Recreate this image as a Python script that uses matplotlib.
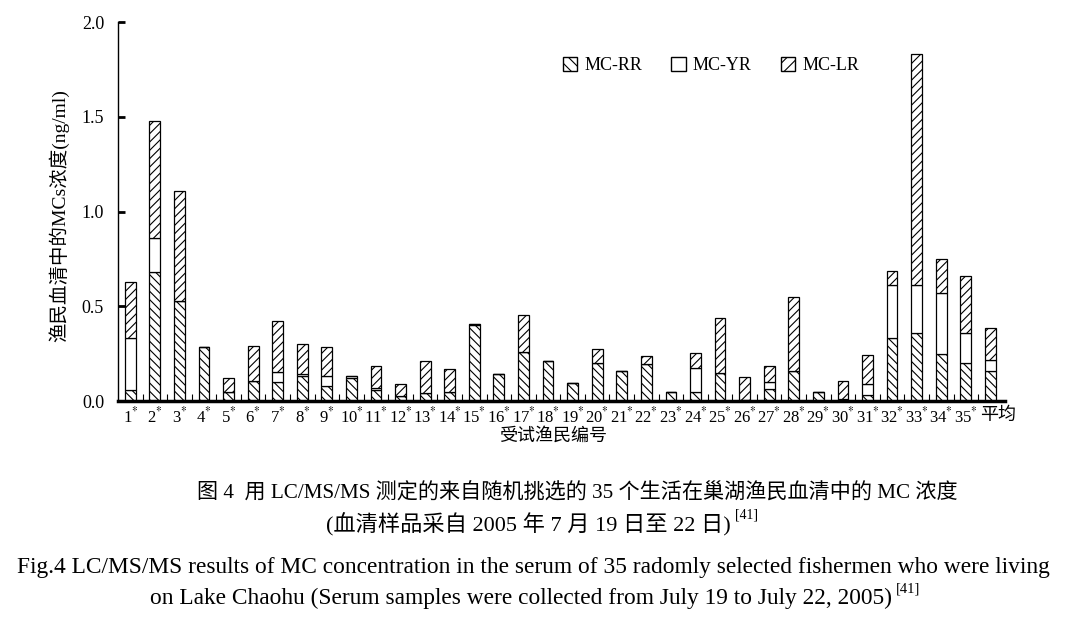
import numpy as np
import matplotlib
matplotlib.use("Agg")
import matplotlib.pyplot as plt
import matplotlib.transforms as mtransforms
from matplotlib.patches import Patch

plt.rcParams['font.family'] = ['Liberation Serif', 'Noto Sans CJK SC']
plt.rcParams['mathtext.fontset'] = 'stix'
plt.rcParams['hatch.linewidth'] = 0.8

# fishermen 1..35 plus the mean ("平均")
labels = [f"{i}$^{{*}}$" for i in range(1, 36)] + ["平均"]

mc_rr = [0.06, 0.68, 0.53, 0.285, 0.045, 0.105, 0.10, 0.13, 0.08, 0.12,
         0.06, 0.025, 0.04, 0.045, 0.40, 0.14, 0.26, 0.21, 0.095, 0.20,
         0.16, 0.195, 0.048, 0.05, 0.15, 0.0, 0.065, 0.16, 0.045, 0.01,
         0.03, 0.33, 0.36, 0.25, 0.20, 0.16]
mc_yr = [0.27, 0.18, 0.0, 0.0, 0.0, 0.0, 0.054, 0.01, 0.05, 0.01,
         0.01, 0.0, 0.0, 0.0, 0.005, 0.0, 0.0, 0.0, 0.0, 0.0,
         0.0, 0.0, 0.0, 0.125, 0.0, 0.005, 0.035, 0.0, 0.0, 0.0,
         0.06, 0.28, 0.25, 0.32, 0.16, 0.055]
mc_lr = [0.30, 0.62, 0.58, 0.0, 0.075, 0.185, 0.266, 0.16, 0.155, 0.0,
         0.115, 0.065, 0.17, 0.125, 0.0, 0.0, 0.195, 0.0, 0.0, 0.075,
         0.0, 0.04, 0.0, 0.077, 0.29, 0.12, 0.085, 0.39, 0.0, 0.095,
         0.155, 0.076, 1.22, 0.18, 0.30, 0.17]

x = np.arange(len(labels))
rr = np.array(mc_rr)
yr = np.array(mc_yr)
lr = np.array(mc_lr)

fig = plt.figure(figsize=(10.67, 6.2), dpi=100)
ax = fig.add_axes([0.1106, 0.3532, 0.8314, 0.6113])

w = 0.44
kw = dict(width=w, color="white", edgecolor="black", linewidth=0.9)
ax.bar(x, rr, hatch="\\\\\\\\", **kw)
ax.bar(x, yr, bottom=rr, **kw)
ax.bar(x, lr, bottom=rr + yr, hatch="////", **kw)

ax.set_xlim(-0.5, 35.6)
ax.set_ylim(0, 2.0)
ax.set_yticks([0.0, 0.5, 1.0, 1.5, 2.0])
ax.set_yticklabels(["0.0", "0.5", "1.0", "1.5", "2.0"])
ax.set_xticks(x)
ax.set_xticklabels(labels)
ax.set_xticks(np.arange(0.5, 35.5, 1), minor=True)
ax.tick_params(axis="x", which="major", length=0, pad=4, labelsize=12)
ax.tick_params(axis="x", which="minor", direction="in", length=5, width=0.8)
ax.tick_params(axis="y", direction="in", length=5, width=2, labelsize=13, pad=10)
for s in ["top", "right"]:
    ax.spines[s].set_visible(False)
ax.spines["bottom"].set_linewidth(2.5)
ax.spines["left"].set_linewidth(1.0)

# nudge the last label ("平均") right so it clears 35*
last = ax.get_xticklabels()[-1]
last.set_transform(last.get_transform() + mtransforms.ScaledTranslation(8 / 100, 0, fig.dpi_scale_trans))
last.set_fontsize(13)

ax.set_ylabel("渔民血清中的MCs浓度(ng/ml)", fontsize=14)
ax.yaxis.set_label_coords(-0.055, 0.49)
ax.set_xlabel("受试渔民编号", fontsize=13)
ax.xaxis.set_label_coords(0.49, -0.07)

handles = [Patch(facecolor="white", edgecolor="black", hatch="\\\\\\"),
           Patch(facecolor="white", edgecolor="black"),
           Patch(facecolor="white", edgecolor="black", hatch="///")]
ax.legend(handles, ["MC-RR", "MC-YR", "MC-LR"], ncol=3, frameon=False,
          loc="upper left", bbox_to_anchor=(0.483, 0.95), fontsize=13,
          handlelength=0.8, handleheight=0.8, handletextpad=0.4, columnspacing=1.6)


def caption(xc, ypx, text, size, sup=None):
    t = fig.text(xc, 1 - ypx / 620, text, ha="center", va="center", fontsize=size)
    if sup:
        # shift main text left so the line incl. superscript stays centred
        sw = size * 0.55 * len(sup) * fig.dpi / 72
        t.set_position((xc - sw / 2 / fig.bbox.width, 1 - ypx / 620))
        fig.canvas.draw()
        bb = t.get_window_extent()
        fig.text(bb.x1 / fig.bbox.width + 0.004, (bb.y1 - 2) / fig.bbox.height, sup,
                 ha="left", va="center", fontsize=size * 0.62)


caption(0.541, 493, "图 4  用 LC/MS/MS 测定的来自随机挑选的 35 个生活在巢湖渔民血清中的 MC 浓度", 15.2)
caption(0.518, 525, "(血清样品采自 2005 年 7 月 19 日至 22 日)", 16, "[41]")
caption(0.5, 567, "Fig.4 LC/MS/MS results of MC concentration in the serum of 35 radomly selected fishermen who were living", 16.8)
caption(0.512, 598, "on Lake Chaohu (Serum samples were collected from July 19 to July 22, 2005)", 16.8, "[41]")

fig.savefig("out.png", dpi=100)
